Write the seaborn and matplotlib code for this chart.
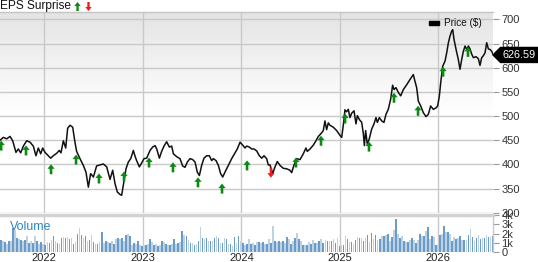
import numpy as np
import pandas as pd
import matplotlib
matplotlib.use("Agg")
import matplotlib.pyplot as plt
from matplotlib.path import Path
from matplotlib.patches import Polygon, Rectangle
import seaborn as sns

# ---------------- data ----------------
price_dates = [2021.550, 2021.584, 2021.618, 2021.652, 2021.679, 2021.712, 2021.736, 2021.760, 2021.787, 2021.821,
               2021.855, 2021.888, 2021.915, 2021.939, 2021.963, 2021.983, 2022.007, 2022.041, 2022.064, 2022.091,
               2022.125, 2022.152, 2022.169, 2022.193, 2022.217, 2022.237, 2022.261, 2022.288, 2022.311, 2022.328,
               2022.362, 2022.396, 2022.423, 2022.447, 2022.470, 2022.498, 2022.531, 2022.565, 2022.599, 2022.633,
               2022.667, 2022.694, 2022.718, 2022.741, 2022.768, 2022.785, 2022.802, 2022.829, 2022.853, 2022.877,
               2022.904, 2022.921, 2022.937, 2022.965, 2022.988, 2023.012, 2023.039, 2023.073, 2023.100, 2023.124,
               2023.141, 2023.168, 2023.191, 2023.215, 2023.242, 2023.269, 2023.293, 2023.310, 2023.344, 2023.377,
               2023.404, 2023.428, 2023.452, 2023.479, 2023.506, 2023.530, 2023.553, 2023.574, 2023.597, 2023.621,
               2023.648, 2023.675, 2023.699, 2023.716, 2023.743, 2023.767, 2023.790, 2023.811, 2023.834, 2023.868,
               2023.902, 2023.936, 2023.959, 2023.987, 2024.014, 2024.037, 2024.054, 2024.081, 2024.105, 2024.129,
               2024.156, 2024.183, 2024.207, 2024.230, 2024.257, 2024.274, 2024.291, 2024.318, 2024.342, 2024.365,
               2024.393, 2024.426, 2024.460, 2024.494, 2024.511, 2024.535, 2024.562, 2024.596, 2024.629, 2024.656,
               2024.670, 2024.697, 2024.731, 2024.758, 2024.782, 2024.805, 2024.832, 2024.849, 2024.866, 2024.883,
               2024.900, 2024.934, 2024.968, 2025.002, 2025.019, 2025.035, 2025.052, 2025.069, 2025.086, 2025.103,
               2025.120, 2025.144, 2025.164, 2025.178, 2025.198, 2025.222, 2025.239, 2025.249, 2025.262, 2025.279,
               2025.299, 2025.323, 2025.347, 2025.367, 2025.381, 2025.401, 2025.425, 2025.448, 2025.469, 2025.492,
               2025.516, 2025.536, 2025.550, 2025.570, 2025.594, 2025.618, 2025.645, 2025.679, 2025.713, 2025.746,
               2025.763, 2025.780, 2025.797, 2025.821, 2025.848, 2025.875, 2025.899, 2025.922, 2025.949, 2025.976,
               2025.993, 2026.010, 2026.024, 2026.044, 2026.068, 2026.085, 2026.102, 2026.119, 2026.136, 2026.146,
               2026.159, 2026.180, 2026.203, 2026.220, 2026.237, 2026.254, 2026.271, 2026.288, 2026.305, 2026.322,
               2026.339, 2026.356, 2026.383, 2026.406, 2026.423, 2026.440, 2026.457, 2026.474, 2026.491, 2026.508,
               2026.525, 2026.542, 2026.559]
price_values = [450, 456, 453, 458, 449, 425, 432, 424, 438, 449,
                446, 438, 418, 434, 422, 434, 425, 418, 413, 418,
                423, 429, 424, 449, 434, 475, 481, 477, 446, 427,
                412, 398, 384, 353, 381, 374, 397, 399, 401, 395,
                369, 388, 360, 343, 338, 336, 357, 391, 405, 412,
                429, 417, 408, 395, 403, 412, 413, 429, 436, 439,
                432, 413, 427, 438, 447, 436, 438, 422, 416, 412,
                397, 394, 405, 412, 410, 405, 384, 377, 398, 413,
                418, 418, 408, 412, 408, 398, 381, 374, 384, 398,
                412, 424, 432, 446, 440, 434, 438, 436, 432, 432,
                428, 418, 413, 418, 412, 399, 399, 381, 395, 406,
                398, 392, 391, 388, 383, 399, 412, 410, 422, 434,
                427, 432, 440, 449, 458, 463, 470, 490, 472, 486,
                481, 477, 470, 460, 456, 481, 513, 509, 514, 497,
                506, 511, 484, 501, 493, 487, 463, 439, 470, 442,
                453, 473, 484, 497, 487, 497, 490, 487, 504, 514,
                535, 564, 555, 559, 549, 542, 555, 565, 576, 586,
                572, 559, 531, 521, 507, 499, 504, 521, 514, 517,
                521, 541, 569, 603, 614, 631, 652, 666, 676, 679,
                659, 638, 617, 597, 617, 634, 645, 638, 645, 639,
                628, 621, 623, 619, 605, 621, 625, 631, 652, 639,
                638, 634, 626.59]

beat_dates = [2021.562, 2021.814, 2022.068, 2022.322, 2022.555, 2022.809, 2023.063, 2023.306, 2023.560,
              2023.804, 2024.058, 2024.555, 2024.809, 2025.053, 2025.296, 2025.550, 2025.794, 2026.048, 2026.301]
beat_values = [439, 429, 390, 410, 371, 375, 404, 394, 363, 350, 398, 404, 449, 495, 437, 538, 511, 592, 633]
miss_dates = [2024.301]
miss_values = [383]

volume_k = [1.33, 1.15, 1.08, 0.86, 1.15, 1.23, 2.59, 2.41, 1.51, 1.41, 1.33, 1.15, 1.33, 1.69, 0.97, 1.23,
            0.97, 1.69, 1.23, 0.86, 1.08, 0.86, 0.72, 1.08, 0.97, 1.33, 1.69, 1.15, 0.97, 0.86, 1.51, 1.62,
            1.51, 1.59, 1.44, 1.51, 0.86, 1.08, 1.95, 2.59, 1.87, 1.51, 1.69, 1.23, 1.33, 1.80, 1.08, 0.86,
            0.86, 1.08, 2.16, 0.97, 1.15, 1.08, 0.97, 1.23, 0.86, 1.41, 1.51, 1.41, 1.51, 1.23,
            1.80, 1.95, 1.69, 0.79, 0.97, 0.86, 1.23, 0.79, 0.61, 0.72, 0.79, 0.86, 1.44, 1.08, 0.79, 0.86,
            0.61, 0.79, 1.15, 1.08, 0.86, 0.79, 0.72, 0.86, 1.44, 0.86, 0.97, 1.08, 2.23, 1.87, 1.69, 1.33,
            0.97, 0.97, 0.79, 0.86, 1.23, 2.67, 1.51, 1.44, 1.51, 1.23, 1.23, 1.23, 1.51, 1.69, 1.51, 0.97,
            0.97, 1.51, 1.44, 0.86, 0.86, 0.61, 1.62, 0.97, 1.69, 1.23, 0.97, 0.79, 0.86, 1.44,
            0.86, 0.97, 0.72, 1.08, 1.08, 0.97, 1.08, 0.86, 0.86, 1.44, 0.97, 2.77, 1.23, 1.08, 1.23, 1.08,
            1.23, 0.97, 1.59, 1.44, 0.86, 1.23, 1.51, 2.05, 1.44, 1.15, 0.72, 0.79, 0.79, 1.08, 0.86, 1.33,
            0.97, 0.97, 1.23, 1.44, 0.97, 1.33, 1.23, 1.23, 1.23, 1.44, 0.97, 1.51, 0.61, 0.79, 0.79, 1.69,
            1.44, 1.08, 1.08, 0.86, 1.33, 1.59, 1.51, 1.51, 1.23, 1.51, 1.87, 1.08, 2.05, 1.44,
            1.80, 1.33, 1.44, 1.69, 1.69, 1.80, 1.95, 1.23, 1.59, 2.41, 3.60, 1.95, 1.51, 1.69, 1.15, 1.08,
            1.08, 1.33, 1.51, 1.33, 0.97, 1.33, 1.95, 1.69, 1.69, 2.23, 2.67, 1.44, 1.69, 1.59, 0.72, 0.79,
            1.87, 1.95, 2.77, 2.16, 2.16, 1.95, 1.23, 1.59, 1.44, 1.51, 1.69, 1.33, 1.33, 1.33, 1.80, 2.52,
            1.59, 1.23, 1.51, 1.80, 1.44, 1.51, 1.51, 1.80, 1.59, 1.59, 1.69]

year_ticks = [2022, 2023, 2024, 2025, 2026]
price_ticks = [300, 350, 400, 450, 500, 550, 600, 650, 700]
vol_ticks = [0, 1, 2, 3, 4]
vol_tick_labels = ["0", "1k", "2k", "3k", "4k"]

# ---------------- style ----------------
sns.set_theme(style="white")
plt.rcParams["font.family"] = ["Liberation Sans", "DejaVu Sans"]

W, H = 538, 262
fig = plt.figure(figsize=(W / 100, H / 100), dpi=100)
fig.patch.set_facecolor("white")


def fx(px):
    return px / W


def fy(py):
    return 1 - py / H


XMIN, XMAX = 2021.55, 2026.555
ax = fig.add_axes([0, fy(213), fx(493), fy(12) - fy(213)])
axv = fig.add_axes([0, fy(252), fx(493), fy(215) - fy(252)])

# gradient background for price panel
t = np.linspace(0, 1, 256)
g = 0.895 + (1 - 0.895) * np.clip(t / 0.5, 0, 1)
img = np.repeat(g[:, None, None], 3, axis=2)
ax.imshow(img, extent=[0, 1, 0, 1], transform=ax.transAxes, aspect="auto", zorder=0)

grid_col = "#c9c9c9"
for yv in price_ticks:
    ax.axhline(yv, color=grid_col, lw=1, zorder=1)
for xv in year_ticks:
    ax.axvline(xv, color=grid_col, lw=1, zorder=1)
    axv.axvline(xv, color=grid_col, lw=1, zorder=0)

# price line
df = pd.DataFrame({"date": price_dates, "price": price_values})
sns.lineplot(data=df, x="date", y="price", ax=ax, color="#111111", lw=1.1,
             estimator=None, sort=False, zorder=2)

# arrow markers
up_path = Path([(0, 0.5), (0.36, 0.05), (0.13, 0.05), (0.13, -0.5), (-0.13, -0.5),
                (-0.13, 0.05), (-0.36, 0.05), (0, 0.5)],
               [Path.MOVETO] + [Path.LINETO] * 6 + [Path.CLOSEPOLY])
down_path = Path([(x, -y) for x, y in up_path.vertices], up_path.codes)

sns.scatterplot(x=beat_dates, y=beat_values, ax=ax, marker=up_path, s=52,
                color="#0b8a12", edgecolor="none", linewidth=0, zorder=3)
sns.scatterplot(x=miss_dates, y=miss_values, ax=ax, marker=down_path, s=52,
                color="#ee1c1c", edgecolor="none", linewidth=0, zorder=3)

ax.set_xlim(XMIN, XMAX)
ax.set_ylim(299.5, 715.5)
ax.set_xlabel("")
ax.set_ylabel("")
ax.set_yticks(price_ticks)
ax.set_xticks(year_ticks)
ax.yaxis.tick_right()
ax.tick_params(axis="y", length=4, width=0.8, color="#999999", pad=2,
               labelsize=8, labelcolor="#333333", right=True, left=False)
ax.tick_params(axis="x", labelbottom=False, length=0)
for s in ["left", "right", "bottom"]:
    ax.spines[s].set_visible(False)
ax.spines["top"].set_color("#c4c4c4")
ax.spines["top"].set_linewidth(1)

# volume
vol_x = np.linspace(2021.56, 2026.55, len(volume_k))
tone = ["d" if i % 2 == 0 else "l" for i in range(len(volume_k))]
vdf = pd.DataFrame({"x": vol_x, "v": volume_k, "tone": tone})
sns.barplot(data=vdf, x="x", y="v", hue="tone", palette={"d": "#5d9cd6", "l": "#b5d2ec"},
            native_scale=True, dodge=False, width=0.8, errorbar=None, legend=False,
            ax=axv, zorder=2, linewidth=0)
axv.set_xlim(XMIN, XMAX)
axv.set_ylim(0, 4)
axv.set_xlabel("")
axv.set_ylabel("")
axv.set_yticks(vol_ticks)
axv.set_yticklabels(vol_tick_labels)
axv.set_xticks(year_ticks)
axv.set_xticklabels([str(y) for y in year_ticks])
axv.yaxis.tick_right()
axv.tick_params(axis="y", length=4, width=0.8, color="#999999", pad=2,
                labelsize=8, labelcolor="#333333", right=True, left=False)
axv.tick_params(axis="x", length=0, pad=1, labelsize=8, labelcolor="#222222")
axv.set_facecolor("white")
for s in ["left", "bottom"]:
    axv.spines[s].set_visible(False)
axv.spines["top"].set_color("#d2d2d2")
axv.spines["top"].set_linewidth(2.5)
axv.spines["right"].set_color("#c9c9c9")
axv.spines["right"].set_linewidth(1)

# overlay in pixel coordinates for decorations
ov = fig.add_axes([0, 0, 1, 1])
ov.set_xlim(0, W)
ov.set_ylim(H, 0)
ov.axis("off")
ov.patch.set_alpha(0)

ov.text(0, 6.5, "EPS Surprise", fontsize=8.6, va="center", ha="left", color="#111111")
ov.scatter([77], [5.5], marker=up_path, s=42, color="#0b8a12", linewidths=0)
ov.scatter([87.5], [5.5], marker=down_path, s=42, color="#ee1c1c", linewidths=0)

ov.text(10, 227, "Volume", fontsize=8.9, va="center", ha="left", color="#2b86c9")

ov.add_patch(Rectangle((429, 20.5), 10, 4.5, color="black"))
ov.text(444, 23, "Price ($)", fontsize=7.2, va="center", ha="left", color="#111111")

# last price tag
last = price_values[-1]
yc = H - ax.transData.transform((price_dates[-1], last))[1]
ov.add_patch(Polygon([(493, yc), (500.5, yc - 7.5), (538, yc - 7.5), (538, yc + 7.5), (500.5, yc + 7.5)],
                     closed=True, color="black"))
ov.text(519.5, yc + 0.5, f"{last:.2f}", fontsize=7.8, va="center", ha="center", color="white")

fig.savefig("out.png", dpi=100)
